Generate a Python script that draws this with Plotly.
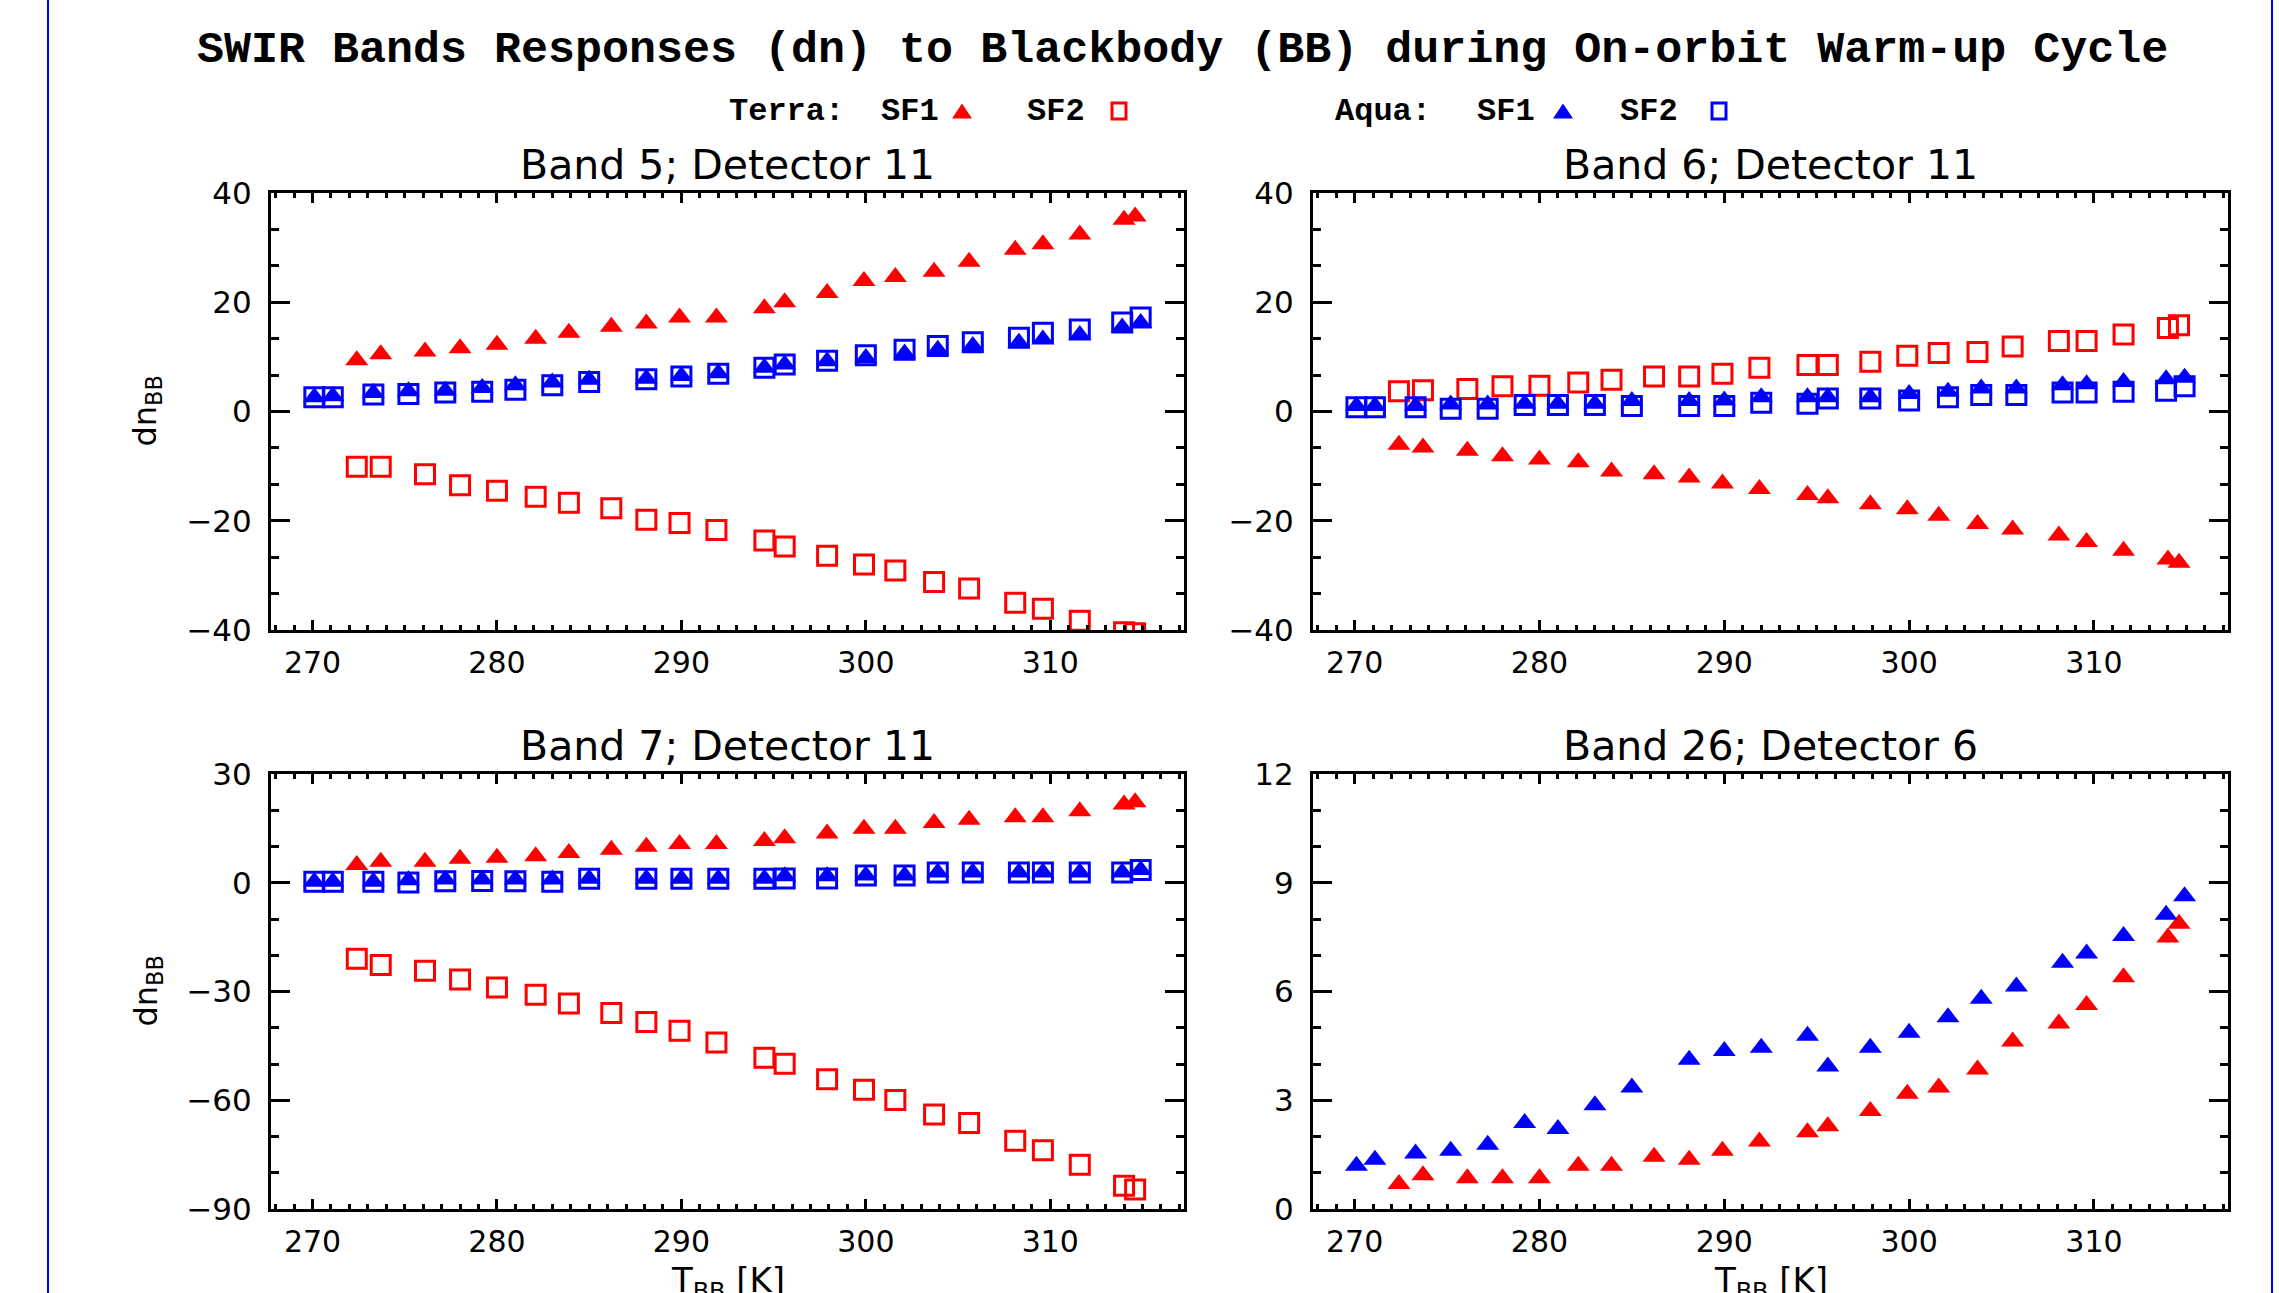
import plotly.graph_objects as go
from plotly.subplots import make_subplots

W, H = 2279, 1293

# ---------------- data ----------------
terra_t = [272.4, 273.7, 276.1, 278.0, 280.0, 282.1, 283.9, 286.2, 288.1, 289.9, 291.9, 294.5,
           295.6, 297.9, 299.9, 301.6, 303.7, 305.6, 308.1, 309.6, 311.6, 314.0, 314.6]
aqua_t = [270.1, 271.1, 273.3, 275.2, 277.2, 279.2, 281.0, 283.0, 285.0, 288.1, 290.0, 292.0,
          294.5, 295.6, 297.9, 300.0, 302.1, 303.9, 305.8, 308.3, 309.6, 311.6, 313.9, 314.9]

b5_terra_sf1 = [9.4, 10.5, 11.0, 11.6, 12.2, 13.3, 14.4, 15.5, 16.1, 17.2, 17.2, 18.9, 20.0, 21.7,
                23.9, 24.6, 25.6, 27.4, 29.6, 30.6, 32.4, 35.1, 35.7]
b5_terra_sf2 = [-10.1, -10.1, -11.5, -13.5, -14.5, -15.6, -16.7, -17.7, -19.8, -20.4, -21.7, -23.6,
                -24.7, -26.4, -28.0, -29.1, -31.2, -32.4, -35.0, -36.1, -38.3, -40.4, -40.6]
b5_aqua_sf1 = [2.6, 2.8, 3.4, 3.7, 3.8, 4.3, 4.8, 5.3, 5.8, 6.0, 6.5, 7.0, 8.0, 8.6, 9.2, 9.8,
               10.6, 11.3, 12.0, 12.6, 13.2, 14.0, 15.4, 16.2]
b5_aqua_sf2 = [2.6, 2.6, 3.1, 3.2, 3.5, 3.6, 4.0, 4.8, 5.4, 5.9, 6.4, 6.9, 8.0, 8.6, 9.3, 10.3,
               11.3, 12.0, 12.7, 13.5, 14.4, 15.0, 16.3, 17.2]

b6_terra_sf1 = [-6.1, -6.6, -7.2, -8.2, -8.8, -9.3, -11.0, -11.5, -12.1, -13.2, -14.2, -15.3, -15.9,
                -17.0, -17.9, -19.1, -20.6, -21.6, -22.7, -23.9, -25.5, -27.1, -27.7]
b6_terra_sf2 = [3.7, 3.9, 4.1, 4.6, 4.7, 5.3, 5.8, 6.4, 6.4, 6.9, 8.0, 8.5, 8.5, 9.1, 10.2, 10.7,
                10.9, 11.9, 12.9, 12.9, 14.1, 15.3, 15.8]
b6_aqua_sf1 = [1.0, 1.0, 1.0, 1.3, 1.3, 1.4, 1.4, 1.4, 1.9, 1.9, 2.0, 2.6, 2.6, 2.6, 2.6, 3.2,
               3.6, 4.2, 4.2, 4.8, 5.0, 5.4, 5.9, 6.2]
b6_aqua_sf2 = [0.8, 0.8, 0.8, 0.5, 0.5, 1.2, 1.2, 1.2, 1.0, 1.0, 1.0, 1.6, 1.4, 2.4, 2.4, 2.0,
               2.6, 3.0, 3.0, 3.5, 3.5, 3.6, 3.8, 4.6]

b7_terra_sf1 = [4.9, 5.8, 5.8, 6.6, 6.9, 7.3, 8.2, 9.1, 9.9, 10.7, 10.7, 11.5, 12.3, 13.6, 14.9,
                14.9, 16.5, 17.4, 18.1, 18.1, 19.7, 21.6, 22.2]
b7_terra_sf2 = [-21.0, -22.7, -24.3, -26.7, -28.9, -30.9, -33.3, -35.9, -38.4, -40.8, -44.1, -48.3,
                -49.9, -54.2, -57.1, -59.9, -63.9, -66.3, -71.2, -73.8, -77.8, -83.6, -84.6]
b7_aqua_sf1 = [0.3, 0.3, 0.3, 0.7, 0.9, 0.9, 0.9, 0.9, 1.1, 1.1, 1.1, 1.1, 1.1, 1.8, 1.8, 2.0,
               2.0, 2.8, 2.8, 2.8, 2.8, 2.8, 2.8, 3.5]
b7_aqua_sf2 = [0.3, 0.3, 0.3, 0.1, 0.4, 0.5, 0.4, 0.3, 1.1, 1.1, 1.1, 1.1, 1.1, 1.2, 1.2, 2.0,
               2.0, 2.8, 2.8, 2.8, 2.8, 2.8, 2.8, 3.5]

b26_terra_sf1 = [0.69, 0.93, 0.85, 0.85, 0.85, 1.19, 1.19, 1.44, 1.36, 1.61, 1.86, 2.12, 2.28, 2.70,
                 3.18, 3.35, 3.85, 4.62, 5.12, 5.63, 6.39, 7.49, 7.87]
b26_aqua_sf1 = [1.19, 1.36, 1.53, 1.61, 1.77, 2.37, 2.21, 2.86, 3.35, 4.12, 4.36, 4.45, 4.78, 3.93,
                4.45, 4.86, 5.29, 5.80, 6.14, 6.79, 7.05, 7.53, 8.12, 8.63]

panel_titles = ["Band 5; Detector 11", "Band 6; Detector 11", "Band 7; Detector 11", "Band 26; Detector 6"]
main_title = "SWIR Bands Responses (dn) to Blackbody (BB) during On-orbit Warm-up Cycle"

RED = "#ff0000"
BLUE = "#0000ff"
FONT = "DejaVu Sans"
MONO = "Liberation Mono"

def px(x):
    return x / W

def py(y):
    return 1 - y / H

fig = make_subplots(rows=2, cols=2)

def add_panel(r, c, tsf1, tsf2, asf1, asf2):
    tri = dict(symbol="triangle-up", size=20, line=dict(width=0))
    sq = dict(symbol="square-open", size=19, line=dict(width=3))
    fig.add_trace(go.Scatter(x=terra_t, y=tsf1, mode="markers",
                             marker=dict(color=RED, **tri), showlegend=False), row=r, col=c)
    if tsf2 is not None:
        fig.add_trace(go.Scatter(x=terra_t, y=tsf2, mode="markers",
                                 marker=dict(color=RED, **sq), showlegend=False), row=r, col=c)
    fig.add_trace(go.Scatter(x=aqua_t, y=asf1, mode="markers",
                             marker=dict(color=BLUE, **tri), showlegend=False), row=r, col=c)
    if asf2 is not None:
        fig.add_trace(go.Scatter(x=aqua_t, y=asf2, mode="markers",
                                 marker=dict(color=BLUE, **sq), showlegend=False), row=r, col=c)

add_panel(1, 1, b5_terra_sf1, b5_terra_sf2, b5_aqua_sf1, b5_aqua_sf2)
add_panel(1, 2, b6_terra_sf1, b6_terra_sf2, b6_aqua_sf1, b6_aqua_sf2)
add_panel(2, 1, b7_terra_sf1, b7_terra_sf2, b7_aqua_sf1, b7_aqua_sf2)
add_panel(2, 2, b26_terra_sf1, None, b26_aqua_sf1, None)

# panel boxes in pixels: (x0, x1, ytop, ybottom)
boxes = {(1, 1): (271, 1184, 193, 630), (1, 2): (1313, 2228, 193, 630),
         (2, 1): (271, 1184, 774, 1209), (2, 2): (1313, 2228, 774, 1209)}
yspec = {(1, 1): ([-40, 40], 20, 20 / 3), (1, 2): ([-40, 40], 20, 20 / 3),
         (2, 1): ([-90, 30], 30, 10), (2, 2): ([0, 12], 3, 1)}

for (r, c), (x0, x1, yt, yb) in boxes.items():
    fig.update_xaxes(row=r, col=c, domain=[px(x0), px(x1)], range=[267.75, 317.25], automargin=False,
                     tick0=270, dtick=10, ticks="inside", ticklen=10, tickwidth=3, tickcolor="black",
                     showline=True, linewidth=3, linecolor="black", mirror="allticks",
                     showgrid=False, zeroline=False,
                     minor=dict(dtick=1, tick0=270, ticks="inside", ticklen=5, tickwidth=2.5,
                                tickcolor="black", showgrid=False),
                     tickfont=dict(family=FONT, size=30, color="black"), ticklabelstandoff=4)
    rng, dt, mdt = yspec[(r, c)]
    fig.update_yaxes(row=r, col=c, domain=[py(yb), py(yt)], range=rng, automargin=False,
                     tick0=0, dtick=dt, ticks="inside", ticklen=19, tickwidth=3, tickcolor="black",
                     showline=True, linewidth=3, linecolor="black", mirror="allticks",
                     showgrid=False, zeroline=False,
                     minor=dict(dtick=mdt, tick0=0, ticks="inside", ticklen=8, tickwidth=2.5,
                                tickcolor="black", showgrid=False),
                     tickfont=dict(family=FONT, size=31, color="black"), ticklabelstandoff=10)

ann = []
# main title
ann.append(dict(text=main_title, x=px(1182), y=py(51), xref="paper", yref="paper",
                showarrow=False, xanchor="center", yanchor="middle",
                font=dict(family=MONO, size=45, color="black", weight="bold")))
# legend texts
for txt, xl in [("Terra:", 727), ("SF1", 879), ("SF2", 1025), ("Aqua:", 1333), ("SF1", 1475), ("SF2", 1618)]:
    ann.append(dict(text=txt, x=px(xl), y=py(111), xref="paper", yref="paper",
                    showarrow=False, xanchor="left", yanchor="middle",
                    font=dict(family=MONO, size=32, color="black", weight="bold")))
# panel titles
for (r, c), t in zip([(1, 1), (1, 2), (2, 1), (2, 2)], panel_titles):
    x0, x1, yt, yb = boxes[(r, c)]
    ann.append(dict(text=t, x=px((x0 + x1) / 2), y=py(yt - 28), xref="paper", yref="paper",
                    showarrow=False, xanchor="center", yanchor="middle",
                    font=dict(family=FONT, size=41, color="black")))
# y titles (left column)
for key in [(1, 1), (2, 1)]:
    x0, x1, yt, yb = boxes[key]
    ann.append(dict(text="dn<sub>BB</sub>", x=px(147), y=py((yt + yb) / 2), xref="paper", yref="paper",
                    showarrow=False, xanchor="center", yanchor="middle", textangle=-90,
                    font=dict(family=FONT, size=32, color="black")))
# x titles (bottom row)
for key in [(2, 1), (2, 2)]:
    x0, x1, yt, yb = boxes[key]
    ann.append(dict(text="T<sub>BB</sub> [K]", x=px((x0 + x1) / 2), y=py(1282), xref="paper", yref="paper",
                    showarrow=False, xanchor="center", yanchor="middle",
                    font=dict(family=FONT, size=34, color="black")))

shapes = []
# legend symbols
def tri_path(cx, cy, w=20, h=15):
    return (f"M {px(cx - w/2)},{py(cy + h/2)} L {px(cx + w/2)},{py(cy + h/2)} "
            f"L {px(cx)},{py(cy - h/2)} Z")

for cx, col in [(962, RED), (1563, BLUE)]:
    shapes.append(dict(type="path", path=tri_path(cx, 111), xref="paper", yref="paper",
                       fillcolor=col, line=dict(color=col, width=0)))
for cx, col in [(1119, RED), (1719, BLUE)]:
    shapes.append(dict(type="rect", x0=px(cx - 7), x1=px(cx + 7), y0=py(119), y1=py(103),
                       xref="paper", yref="paper", line=dict(color=col, width=3), fillcolor="rgba(0,0,0,0)"))
# blue frame lines
for xl in [48, 2272]:
    shapes.append(dict(type="line", x0=px(xl), x1=px(xl), y0=-0.05, y1=1.05, xref="paper", yref="paper",
                       line=dict(color=BLUE, width=2)))

fig.update_layout(width=W, height=H, margin=dict(l=0, r=0, t=0, b=0, pad=0, autoexpand=False),
                  paper_bgcolor="white", plot_bgcolor="white",
                  annotations=ann, shapes=shapes, showlegend=False)

fig.write_html("out.html")
